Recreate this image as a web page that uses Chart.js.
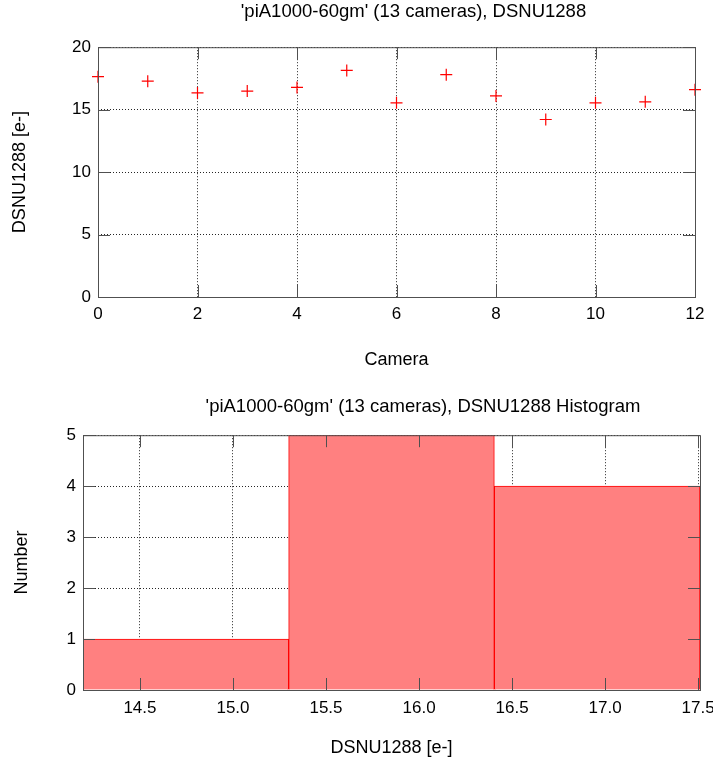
<!DOCTYPE html>
<html>
<head>
<meta charset="utf-8">
<script src="https://cdn.jsdelivr.net/npm/chart.js@4/dist/chart.umd.min.js"></script>
<style>
  body { margin: 0; background: #fff; }
  .wrap { position: absolute; left: 0; width: 713px; }
</style>
</head>
<body>
<div class="wrap" style="top:0;height:380px"><canvas id="dsnuChart" width="713" height="380"></canvas></div>
<div class="wrap" style="top:380px;height:383px"><canvas id="histChart" width="713" height="383"></canvas></div>
<script>
// ---- data ----
const cameras = [0, 1, 2, 3, 4, 5, 6, 7, 8, 9, 10, 11, 12];
const dsnu = [17.64, 17.28, 16.34, 16.49, 16.78, 18.14, 15.55, 17.80, 16.10, 14.21, 15.55, 15.63, 16.60];

const binEdges = [14.194, 15.30, 16.41, 17.51];
const binCounts = [1, 5, 4];
const histTicks = [14.5, 15.0, 15.5, 16.0, 16.5, 17.0, 17.5];

const FONT = '"Liberation Sans", Arial, Helvetica, sans-serif';
const tickFont = { family: FONT, size: 17 };
const axisTitleFont = { family: FONT, size: 18 };
const chartTitleFont = { family: FONT, size: 18.5, weight: 'normal' };
const gridStyle = { color: 'rgba(0,0,0,0.85)', lineWidth: 1, drawTicks: false, offset: false };
const borderStyle = { display: false, dash: [1, 2] };

// gnuplot style frame with inward tick marks on all four sides
const framePlugin = {
    id: 'frame',
    afterLayout(chart, args, opts) {
        // gnuplot puts the title a bit right of the canvas centre
        const t = chart.titleBlock;
        if (t) { t.left += opts.titleShift; t.right += opts.titleShift; }
    },
    afterDraw(chart, args, opts) {
        const { ctx, chartArea: a } = chart;
        ctx.save();
        ctx.strokeStyle = '#505050';
        ctx.lineWidth = 1;
        ctx.setLineDash([]);
        ctx.strokeRect(a.left + 0.5, a.top + 0.5, a.right - a.left, a.bottom - a.top);
        const len = 12;
        ctx.beginPath();
        const xs = chart.scales[opts.xId], ys = chart.scales[opts.yId];
        xs.ticks.forEach(t => {
            const px = Math.round(xs.getPixelForValue(t.value)) + 0.5;
            ctx.moveTo(px, a.bottom); ctx.lineTo(px, a.bottom - len);
            ctx.moveTo(px, a.top); ctx.lineTo(px, a.top + len);
        });
        ys.ticks.forEach(t => {
            const py = Math.round(ys.getPixelForValue(t.value)) + 0.5;
            ctx.moveTo(a.left, py); ctx.lineTo(a.left + len, py);
            ctx.moveTo(a.right, py); ctx.lineTo(a.right - len, py);
        });
        ctx.stroke();
        ctx.restore();
    }
};

// ---- top: DSNU per camera ----
new Chart(document.getElementById('dsnuChart'), {
    type: 'scatter',
    data: {
        datasets: [{
            data: cameras.map((c, i) => ({ x: c, y: dsnu[i] })),
            pointStyle: 'cross',
            pointRadius: 6,
            pointBorderWidth: 1.2,
            borderColor: '#ff0000',
            backgroundColor: '#ff0000',
            clip: false
        }]
    },
    plugins: [framePlugin],
    options: {
        responsive: false,
        animation: false,
        layout: { padding: { left: 0, right: 18, top: 0, bottom: 0 } },
        plugins: {
            legend: { display: false },
            tooltip: { enabled: false },
            title: {
                display: true,
                text: "'piA1000-60gm' (13 cameras), DSNU1288",
                color: '#000',
                font: chartTitleFont,
                padding: { top: 1, bottom: 24 }
            },
            frame: { xId: 'x', yId: 'y', titleShift: 66 }
        },
        scales: {
            x: {
                type: 'linear', min: 0, max: 12,
                ticks: { stepSize: 2, padding: 7, color: '#000', font: tickFont },
                grid: gridStyle, border: borderStyle,
                title: { display: true, text: 'Camera', color: '#000', font: axisTitleFont, padding: { top: 9, bottom: 9 } },
                afterFit(s) { s.height = 83; }
            },
            y: {
                min: 0, max: 20,
                ticks: { stepSize: 5, padding: 7, color: '#000', font: tickFont },
                grid: gridStyle, border: borderStyle,
                title: { display: true, text: 'DSNU1288 [e-]', color: '#000', font: axisTitleFont, padding: { top: 9, bottom: 9 } },
                afterFit(s) { s.width = 98; }
            }
        }
    }
});

// ---- bottom: histogram ----
const binLabels = binCounts.map((c, i) => ((binEdges[i] + binEdges[i + 1]) / 2).toFixed(2));

new Chart(document.getElementById('histChart'), {
    type: 'bar',
    data: {
        labels: binLabels,
        datasets: [{
            data: binCounts,
            backgroundColor: '#ff8080',
            borderColor: '#ff0000',
            borderWidth: 1,
            barPercentage: 1,
            categoryPercentage: 1
        }]
    },
    plugins: [framePlugin],
    options: {
        responsive: false,
        animation: false,
        layout: { padding: { left: 0, right: 13, top: 0, bottom: 0 } },
        plugins: {
            legend: { display: false },
            tooltip: { enabled: false },
            title: {
                display: true,
                text: "'piA1000-60gm' (13 cameras), DSNU1288 Histogram",
                color: '#000',
                font: chartTitleFont,
                padding: { top: 16, bottom: 17 }
            },
            frame: { xId: 'x2', yId: 'y', titleShift: 73 }
        },
        scales: {
            x: { display: false },
            x2: {
                type: 'linear', position: 'bottom', bounds: 'data', offset: false,
                min: binEdges[0], max: binEdges[binEdges.length - 1],
                afterBuildTicks(s) { s.ticks = histTicks.map(v => ({ value: v })); },
                ticks: { stepSize: 0.5, padding: 8, color: '#000', font: tickFont, callback: v => v.toFixed(1) },
                grid: gridStyle, border: borderStyle,
                title: { display: true, text: 'DSNU1288 [e-]', color: '#000', font: axisTitleFont, padding: { top: 4, bottom: 4 } },
                // let the last label run to the canvas edge like gnuplot does
                afterFit(s) { s.height = 73; s.paddingRight = 0; s.paddingLeft = 0; }
            },
            y: {
                min: 0, max: 5,
                ticks: { stepSize: 1, padding: 7, color: '#000', font: tickFont },
                grid: gridStyle, border: borderStyle,
                title: { display: true, text: 'Number', color: '#000', font: axisTitleFont, padding: { top: 11, bottom: 11 } },
                afterFit(s) { s.width = 83; }
            }
        }
    }
});
</script>
</body>
</html>
